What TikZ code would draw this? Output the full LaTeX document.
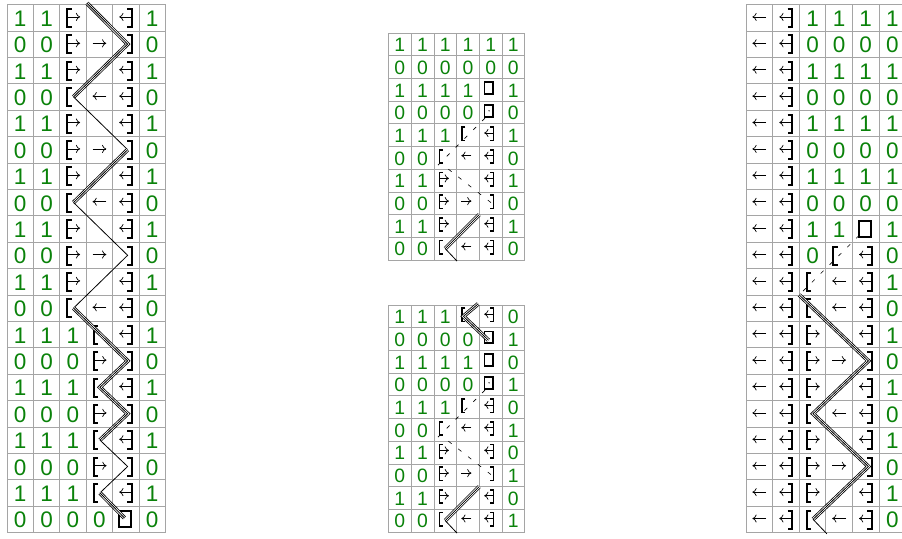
\documentclass[tikz,border=0pt]{standalone}
\usepackage{fontspec}
\setsansfont{Liberation Sans}
\usetikzlibrary{arrows.meta}
\definecolor{digitgreen}{RGB}{10,130,10}
\definecolor{gridgray}{RGB}{165,165,165}
\tikzset{
  gridline/.style={draw=gridgray, line width=0.8pt, line cap=rect},
  digit/.style={font=\sffamily\fontsize{22.5}{24}\selectfont, text=digitgreen, inner sep=0pt},
  brk/.style={line width=2pt, line cap=butt, line join=miter},
  arr/.style={line width=0.7pt, -{Computer Modern Rightarrow[length=4.2pt,width=8pt]}},
  single/.style={line width=0.8pt},
  triple/.style={line width=0.8pt, preaction={draw, line width=0.8pt, double=white, double distance=2.4pt}},
  ghost/.style={line width=0.6pt, dash pattern=on 4pt off 8.5pt},
  lbr/.pic={\draw[brk] (0.45,0.17) -- (0.28,0.17) -- (0.28,0.85) -- (0.45,0.85);},
  rbr/.pic={\draw[brk] (0.56,0.17) -- (0.72,0.17) -- (0.72,0.85) -- (0.56,0.85);},
  lbrarr/.pic={\draw[brk] (0.45,0.17) -- (0.28,0.17) -- (0.28,0.85) -- (0.45,0.85);
    \draw[arr] (0.28,0.47) -- (0.77,0.47);},
  arrrbr/.pic={\draw[brk] (0.56,0.17) -- (0.72,0.17) -- (0.72,0.85) -- (0.56,0.85);
    \draw[arr] (0.72,0.47) -- (0.25,0.47);},
  rarr/.pic={\draw[arr] (0.24,0.47) -- (0.76,0.47);},
  larr/.pic={\draw[arr] (0.76,0.47) -- (0.24,0.47);},
  sq/.pic={\draw[brk] (0.26,0.2) rectangle (0.71,0.8);},
  sqdot/.pic={\draw[brk] (0.26,0.2) rectangle (0.71,0.8); \fill (0.5,0.5) circle (0.8pt);}
}
% one macro per cell code
\newcommand{\symA}[2]{\pic at (#1-1,#2-1) {lbrarr};}
\newcommand{\symB}[2]{\pic at (#1-1,#2-1) {arrrbr};}
\newcommand{\symC}[2]{\pic at (#1-1,#2-1) {lbr};}
\newcommand{\symD}[2]{\pic at (#1-1,#2-1) {rbr};}
\newcommand{\symL}[2]{\pic at (#1-1,#2-1) {larr};}
\newcommand{\symR}[2]{\pic at (#1-1,#2-1) {rarr};}
\newcommand{\symS}[2]{\pic at (#1-1,#2-1) {sq};}
\newcommand{\symQ}[2]{\pic at (#1-1,#2-1) {sqdot};}
\newcommand{\symE}[2]{}
\expandafter\newcommand\csname sym1\endcsname[2]{\node[digit] (\gn-#1-#2) at (#1-0.5,#2-0.47) {1};}
\expandafter\newcommand\csname sym0\endcsname[2]{\node[digit] (\gn-#1-#2) at (#1-0.5,#2-0.47) {0};}
\newcommand{\drawgrid}[2]{%
  \foreach \i in {0,...,#1} \draw[gridline] (\i,0) -- (\i,#2);
  \foreach \j in {0,...,#2} \draw[gridline] (0,\j) -- (#1,\j);}
\newcommand{\fillgrid}[1]{%
  \foreach \row [count=\r] in {#1} {
    \foreach \c [count=\k] in \row {\csname sym\c\endcsname{\k}{\r}}
  }}

\begin{document}
\begin{tikzpicture}[x=1pt, y=-1pt]
  \useasboundingbox (0,0) rectangle (902,538);
  \clip (0,0) rectangle (902,538);

  % Left tape
  \begin{scope}[shift={(7,4.5)}, x=26.4pt, y=-26.4pt]
    \def\gn{L}
    \drawgrid{6}{20}
    \fillgrid{{1,1,A,E,B,1},{0,0,A,R,D,0},{1,1,A,E,B,1},{0,0,C,L,B,0},
      {1,1,A,E,B,1},{0,0,A,R,D,0},{1,1,A,E,B,1},{0,0,C,L,B,0},
      {1,1,A,E,B,1},{0,0,A,R,D,0},{1,1,A,E,B,1},{0,0,C,L,B,0},
      {1,1,1,C,B,1},{0,0,0,A,D,0},{1,1,1,C,B,1},{0,0,0,A,D,0},
      {1,1,1,C,B,1},{0,0,0,A,D,0},{1,1,1,C,B,1},{0,0,0,0,S,0}}
    \coordinate (L-v0) at (3.03,-0.05);
    \coordinate (L-v1) at (4.57,1.5);
    \coordinate (L-v2) at (2.52,3.5);
    \coordinate (L-v3) at (4.57,5.5);
    \coordinate (L-v4) at (2.52,7.5);
    \coordinate (L-v5) at (4.57,9.5);
    \coordinate (L-v6) at (2.52,11.5);
    \coordinate (L-v7) at (4.57,13.5);
    \coordinate (L-v8) at (3.52,14.5);
    \coordinate (L-v9) at (4.57,15.5);
    \coordinate (L-v10) at (3.52,16.5);
    \coordinate (L-v11) at (4.57,17.5);
    \coordinate (L-v12) at (3.52,18.5);
    \coordinate (L-v13) at (4.45,19.45);
    \draw[triple] (L-v0) -- (L-v1) -- (L-v2);
    \draw[single] (L-v2) -- (L-v3);
    \draw[triple] (L-v3) -- (L-v4);
    \draw[single] (L-v4) -- (L-v5) -- (L-v6);
    \draw[triple] (L-v6) -- (L-v7) -- (L-v8) -- (L-v9) -- (L-v10);
    \draw[single] (L-v10) -- (L-v11) -- (L-v12);
    \draw[triple] (L-v12) -- (L-v13);
  \end{scope}

  % Middle tape, top
  \begin{scope}[shift={(388.5,33)}, x=22.7pt, y=-22.7pt,
      every node/.append style={scale=0.86}, brk/.append style={line width=1.7pt}]
    \def\gn{M}
    \drawgrid{6}{10}
    \fillgrid{{1,1,1,1,1,1},{0,0,0,0,0,0},{1,1,1,1,S,1},{0,0,0,0,Q,0},
      {1,1,1,C,B,1},{0,0,C,L,B,0},{1,1,A,E,B,1},{0,0,A,R,D,0},
      {1,1,A,E,B,1},{0,0,C,L,B,0}}
    \coordinate (M-g0) at (4.25,3.75);
    \coordinate (M-g1) at (2.0,6.0);
    \coordinate (M-g2) at (2.64,6.0);
    \coordinate (M-g3) at (4.55,7.5);
    \coordinate (M-t0) at (4.0,8.0);
    \coordinate (M-t1) at (2.5,9.5);
    \coordinate (M-t2) at (3.02,10.05);
    \draw[ghost] (M-g0) -- (M-g1);
    \draw[ghost] (M-g2) -- (M-g3);
    \draw[triple] (M-t0) -- (M-t1);
    \draw[single] (M-t1) -- (M-t2);
  \end{scope}

  % Middle tape, bottom
  \begin{scope}[shift={(388.5,305)}, x=22.7pt, y=-22.7pt,
      every node/.append style={scale=0.86}, brk/.append style={line width=1.7pt}]
    \def\gn{N}
    \drawgrid{6}{10}
    \fillgrid{{1,1,1,C,B,0},{0,0,0,0,S,1},{1,1,1,1,S,0},{0,0,0,0,Q,1},
      {1,1,1,C,B,0},{0,0,C,L,B,1},{1,1,A,E,B,0},{0,0,A,R,D,1},
      {1,1,A,E,B,0},{0,0,C,L,B,1}}
    \coordinate (N-h0) at (3.95,-0.05);
    \coordinate (N-h1) at (3.3,0.5);
    \coordinate (N-h2) at (4.4,1.55);
    \coordinate (N-g0) at (4.25,3.75);
    \coordinate (N-g1) at (2.0,6.0);
    \coordinate (N-g2) at (2.64,6.0);
    \coordinate (N-g3) at (4.55,7.5);
    \coordinate (N-t0) at (4.0,8.0);
    \coordinate (N-t1) at (2.5,9.5);
    \coordinate (N-t2) at (3.02,10.05);
    \draw[triple] (N-h0) -- (N-h1) -- (N-h2);
    \draw[ghost] (N-g0) -- (N-g1);
    \draw[ghost] (N-g2) -- (N-g3);
    \draw[triple] (N-t0) -- (N-t1);
    \draw[single] (N-t1) -- (N-t2);
  \end{scope}

  % Right tape
  \begin{scope}[shift={(746,4.5)}, x=26.6pt, y=-26.4pt]
    \def\gn{R}
    \drawgrid{6}{20}
    \fillgrid{{L,B,1,1,1,1},{L,B,0,0,0,0},{L,B,1,1,1,1},{L,B,0,0,0,0},
      {L,B,1,1,1,1},{L,B,0,0,0,0},{L,B,1,1,1,1},{L,B,0,0,0,0},
      {L,B,1,1,S,1},{L,B,0,C,B,0},{L,B,C,L,B,1},{L,B,C,L,B,0},
      {L,B,A,E,B,1},{L,B,A,R,D,0},{L,B,A,E,B,1},{L,B,C,L,B,0},
      {L,B,A,E,B,1},{L,B,A,R,D,0},{L,B,A,E,B,1},{L,B,C,L,B,0}}
    \coordinate (R-g0) at (4.25,8.75);
    \coordinate (R-v0) at (2.0,11.0);
    \coordinate (R-v1) at (4.6,13.5);
    \coordinate (R-v2) at (2.52,15.5);
    \coordinate (R-v3) at (4.6,17.5);
    \coordinate (R-v4) at (2.52,19.5);
    \coordinate (R-v5) at (3.04,20.05);
    \draw[ghost] (R-g0) -- (R-v0);
    \draw[triple] (R-v0) -- (R-v1) -- (R-v2) -- (R-v3) -- (R-v4);
    \draw[single] (R-v4) -- (R-v5);
  \end{scope}
\end{tikzpicture}
\end{document}
